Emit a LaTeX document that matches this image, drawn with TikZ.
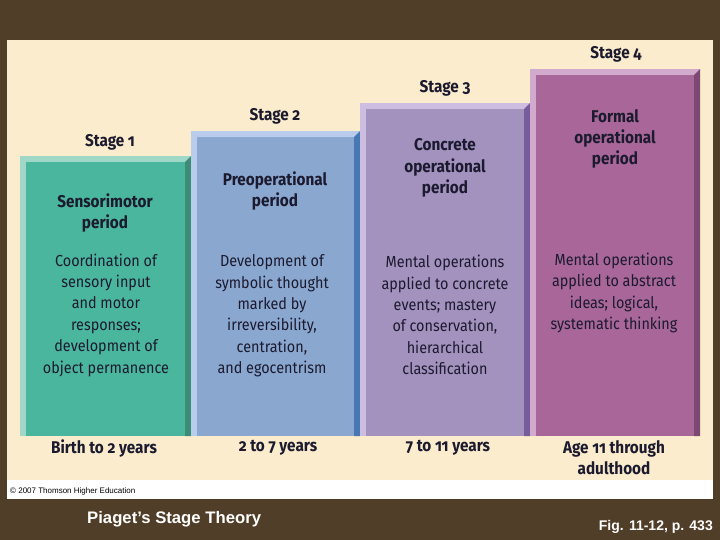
\documentclass[tikz,border=0pt]{standalone}
\usepackage{fontspec}
\setmainfont{Fira Sans}[Numbers=OldStyle,FakeStretch=0.9]
\newfontfamily\arialfont{Liberation Sans}
\usetikzlibrary{positioning}

\definecolor{slidebg}{HTML}{503E28}
\definecolor{panel}{HTML}{FAECCC}
\definecolor{inktext}{HTML}{1B1A2E}
\definecolor{sOneFill}{HTML}{4BB69E}
\definecolor{sOneLight}{HTML}{A0D8C8}
\definecolor{sOneDark}{HTML}{3C8C78}
\definecolor{sTwoFill}{HTML}{8AA7D0}
\definecolor{sTwoLight}{HTML}{B9CCEB}
\definecolor{sTwoDark}{HTML}{4878B4}
\definecolor{sThreeFill}{HTML}{A391BE}
\definecolor{sThreeLight}{HTML}{CDBEE1}
\definecolor{sThreeDark}{HTML}{765C9B}
\definecolor{sFourFill}{HTML}{A86798}
\definecolor{sFourLight}{HTML}{D2AACD}
\definecolor{sFourDark}{HTML}{7D4873}

\begin{document}
\begin{tikzpicture}[x=1pt, y=-1pt,
    stagelabel/.style={text=inktext, align=center, inner sep=0pt, font=\bfseries\fontsize{17}{19}\selectfont},
    periodname/.style={text=inktext, align=center, inner sep=0pt, font=\bfseries\fontsize{17}{21.2}\selectfont},
    detail/.style={text=inktext, align=center, inner sep=0pt, font=\fontsize{16}{21.4}\selectfont},
    agerange/.style={text=inktext, align=center, inner sep=0pt, font=\bfseries\fontsize{17}{21}\selectfont},
    caption/.style={text=white, inner sep=0pt, font=\arialfont\bfseries}
]
    % Slide and panel
    \useasboundingbox (0,0) rectangle (720,540);
    \fill[slidebg] (0,0) rectangle (720,540);
    \fill[panel] (7,40) rectangle (713,480);
    \fill[white] (7,480) rectangle (713,499);

    % Stage columns (light border, dark right side, face)
    \fill[sOneLight] (20,156) rectangle (191,436);
    \fill[sOneDark] (185,162) -- (191,156) -- (191,436) -- (185,436) -- cycle;
    \fill[sOneFill] (26,162) rectangle (185,436);

    \fill[sTwoLight] (191,131) rectangle (360,436);
    \fill[sTwoDark] (354,137) -- (360,131) -- (360,436) -- (354,436) -- cycle;
    \fill[sTwoFill] (197,137) rectangle (354,436);

    \fill[sThreeLight] (360,103) rectangle (530,436);
    \fill[sThreeDark] (524,109) -- (530,103) -- (530,436) -- (524,436) -- cycle;
    \fill[sThreeFill] (366,109) rectangle (524,436);

    \fill[sFourLight] (530,69) rectangle (700,436);
    \fill[sFourDark] (694,75) -- (700,69) -- (700,436) -- (694,436) -- cycle;
    \fill[sFourFill] (536,75) rectangle (694,436);

    % Stage labels
    \node[stagelabel] (stage1) at (110,142) {Stage 1};
    \node[stagelabel] (stage2) at (275,116) {Stage 2};
    \node[stagelabel] (stage3) at (445,88) {Stage 3};
    \node[stagelabel] (stage4) at (616,54) {Stage 4};

    % Period names
    \node[periodname] (sensori) at (105,213) {Sensorimotor\\period};
    \node[periodname] (preop) at (275,191) {Preoperational\\period};
    \node[periodname] (concrete) at (445,168) {Concrete\\operational\\period};
    \node[periodname] (formal) at (615,139) {Formal\\operational\\period};

    % Descriptions
    \node[detail] (sensoriText) at (106,315) {Coordination of\\sensory input\\and motor\\responses;\\development of\\object permanence};
    \node[detail] (preopText) at (272,316) {Development of\\symbolic thought\\marked by\\irreversibility,\\centration,\\and egocentrism};
    \node[detail] (concreteText) at (445,315) {Mental operations\\applied to concrete\\events; mastery\\of conservation,\\hierarchical\\classification};
    \node[detail] (formalText) at (614,293) {Mental operations\\applied to abstract\\ideas; logical,\\systematic thinking};

    % Age ranges
    \node[agerange] (age1) at (104,448) {Birth to 2 years};
    \node[agerange] (age2) at (278,448) {2 to 7 years};
    \node[agerange] (age3) at (448,448) {7 to 11 years};
    \node[agerange] (age4) at (614,458) {Age 11 through\\adulthood};

    % Credits and captions
    \node[text=black, inner sep=0pt, anchor=west, font=\arialfont\fontsize{8}{9}\selectfont] (credit) at (10,491) {\textcopyright{} 2007 Thomson Higher Education};
    \node[caption, anchor=west, font=\arialfont\bfseries\fontsize{16.7}{20}\selectfont] (title) at (87,519) {Piaget’s Stage Theory};
    \node[caption, anchor=east, font=\arialfont\bfseries\fontsize{14}{17}\selectfont] (figref) at (713,527) {Fig. 11-12, p. 433};
\end{tikzpicture}
\end{document}
